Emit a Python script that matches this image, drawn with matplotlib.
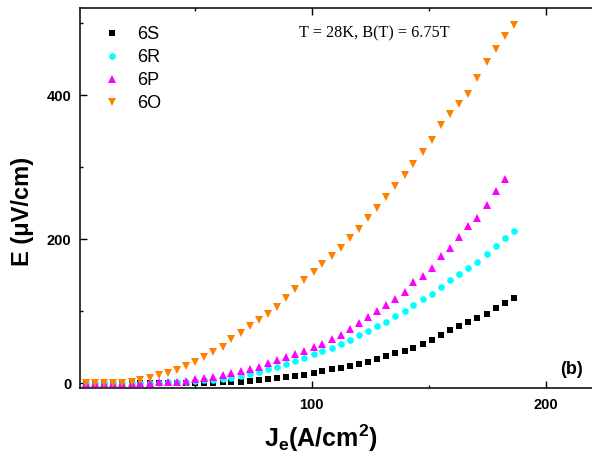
import matplotlib
matplotlib.use("Agg")
import matplotlib.pyplot as plt
from matplotlib.ticker import MultipleLocator

plt.rcParams['font.family'] = ['Liberation Sans', 'DejaVu Sans']
plt.rcParams['mathtext.fontset'] = 'custom'
plt.rcParams['mathtext.rm'] = 'Liberation Sans:bold'
plt.rcParams['mathtext.bf'] = 'Liberation Sans:bold'
plt.rcParams['mathtext.it'] = 'Liberation Sans:bold'

# current density J_e (A/cm^2)
J = [3.5, 7.4, 11.3, 15.2, 19.1, 23.0, 26.8, 30.7, 34.6, 38.5,
     42.4, 46.3, 50.2, 54.1, 58.0, 61.9, 65.7, 69.6, 73.5, 77.4,
     81.3, 85.2, 89.1, 93.0, 96.9, 100.8, 104.6, 108.5, 112.4, 116.3,
     120.2, 124.1, 128.0, 131.9, 135.8, 139.7, 143.5, 147.4, 151.3, 155.2,
     159.1, 163.0, 166.9, 170.8, 174.7, 178.6, 182.4, 186.3]

E_6S = [0.3, 0.3, 0.3, 0.3, 0.3, 0.3, 0.3, 0.3, 0.3, 0.3,
        0.4, 0.4, 0.5, 0.7, 1.0, 1.2, 1.5, 2.0, 3.5, 4.0,
        6.0, 7.8, 9.0, 10.5, 12.0, 14.0, 16.6, 19.4, 21.0, 24.0,
        27.0, 30.0, 34.0, 37.5, 41.5, 45.0, 49.0, 54.5, 60.0, 67.0,
        73.5, 80.0, 85.0, 91.0, 96.0, 104.0, 112.0, 119.0]

E_6R = [0.5, 0.5, 0.5, 0.5, 0.5, 0.5, 0.5, 1.0, 1.0, 1.5,
        2.0, 2.5, 3.0, 4.0, 4.5, 5.5, 7.0, 10.0, 13.0, 16.0,
        20.0, 23.0, 27.0, 31.0, 35.0, 41.0, 45.0, 49.0, 54.0, 60.0,
        67.0, 73.0, 79.0, 85.0, 94.0, 101.0, 109.0, 117.0, 124.0, 134.0,
        143.0, 152.0, 160.0, 169.0, 179.0, 190.0, 201.0, 211.0]

E_6P = [1.0, 1.0, 1.0, 1.0, 1.0, 1.0, 1.0, 1.0, 1.5, 2.0,
        2.5, 3.6, 5.5, 7.0, 9.0, 11.0, 14.0, 17.0, 19.5, 23.0,
        28.0, 32.0, 36.0, 41.0, 45.0, 50.0, 55.0, 61.0, 67.0, 75.0,
        84.0, 92.0, 101.0, 108.0, 117.0, 127.0, 140.0, 149.0, 160.0, 176.0,
        188.0, 203.0, 218.0, 230.0, 248.0, 267.0, 284.0]

E_6O = [0.0, 0.0, 0.0, 0.0, 0.5, 1.5, 4.0, 7.0, 11.0, 15.0,
        19.0, 24.0, 30.0, 36.0, 43.0, 51.0, 61.0, 70.0, 80.0, 88.0,
        96.0, 106.0, 119.0, 131.0, 143.0, 154.0, 165.0, 177.0, 188.0, 201.0,
        214.0, 229.0, 243.0, 259.0, 274.0, 289.0, 304.0, 321.0, 338.0, 358.0,
        373.0, 387.0, 402.0, 424.0, 446.0, 464.0, 482.0, 497.0]

labels = ['6S', '6R', '6P', '6O']

W, H = 592, 463
fig = plt.figure(figsize=(W / 100, H / 100), dpi=100)
left, right, top, bottom = 79.5, 600, 8, 387.5
ax = fig.add_axes([left / W, 1 - bottom / H, (right - left) / W, (bottom - top) / H])

ax.plot(J, E_6S, ls='none', marker='s', ms=3.9, color='black', mew=0, label=labels[0])
ax.plot(J, E_6R, ls='none', marker='o', ms=4.8, color='#00FFFF', mew=0, label=labels[1])
ax.plot(J[:len(E_6P)], E_6P, ls='none', marker='^', ms=5.6, color='#FF00FF', mew=0, label=labels[2])
ax.plot(J, E_6O, ls='none', marker='v', ms=5.6, color='#FF8000', mew=0, label=labels[3])

ax.set_xlim(0.77, 223.2)
ax.set_ylim(-5.8, 520.7)

ax.xaxis.set_major_locator(MultipleLocator(100))
ax.xaxis.set_minor_locator(MultipleLocator(50))
ax.yaxis.set_major_locator(MultipleLocator(200))
ax.yaxis.set_minor_locator(MultipleLocator(100))

for s in ax.spines.values():
    s.set_linewidth(1.1)
ax.tick_params(which='both', direction='in', top=True, right=False, width=1.0)
ax.tick_params(which='major', length=4.8)
ax.tick_params(which='minor', length=2.4)
ax.tick_params(axis='x', which='major', pad=7.5, labelsize=10.5)
ax.tick_params(axis='y', which='major', pad=6, labelsize=10.5)
for lab in ax.get_xticklabels() + ax.get_yticklabels():
    lab.set_fontweight('bold')

leg = ax.legend(loc='upper left', bbox_to_anchor=(104 / W, 1 - 26 / H),
                bbox_transform=fig.transFigure, frameon=False, fontsize=13,
                handlelength=0.85, handletextpad=1.0, labelspacing=0.33,
                borderpad=0, borderaxespad=0, markerscale=1.0)

fig.text(374.5 / W, 1 - 33 / H, 'T = 28K, B(T) = 6.75T', family='Liberation Serif',
         fontsize=11.7, ha='center', va='center')
fig.text(571.5 / W, 1 - 369 / H, '(b)', fontsize=13, fontweight='bold', ha='center', va='center')

fig.text(321 / W, 1 - 438 / H, r'J$_{\mathbf{e}}$(A/cm$^{\mathbf{2}}$)', fontsize=18,
         fontweight='bold', ha='center', va='center')
fig.text(22 / W, 1 - 211 / H, 'E (\u03bcV/cm)', fontsize=17, fontweight='bold',
         rotation=90, ha='center', va='center')

fig.savefig('out.png', dpi=100)
